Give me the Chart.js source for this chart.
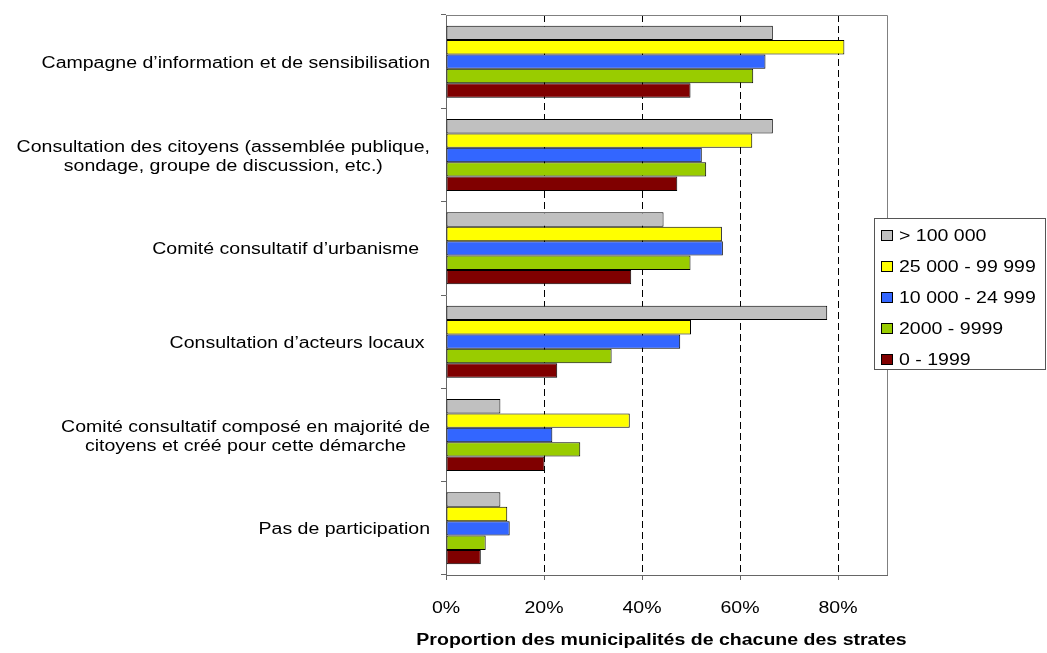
<!DOCTYPE html>
<html>
<head>
<meta charset="utf-8">
<script src="https://cdn.jsdelivr.net/npm/chart.js@4/dist/chart.umd.min.js"></script>
<style>
  html, body { margin: 0; padding: 0; background: #fff; }
  canvas { display: block; }
</style>
</head>
<body>
<canvas id="c" width="1047" height="653"></canvas>
<script>
// ---- Data ----
const categories = [
  ["Campagne d’information et de sensibilisation"],
  ["Consultation des citoyens (assemblée publique,", "sondage, groupe de discussion, etc.)"],
  ["Comité consultatif d’urbanisme  "],
  ["Consultation d’acteurs locaux "],
  ["Comité consultatif composé en majorité de", "citoyens et créé pour cette démarche"],
  ["Pas de participation"]
];
const seriesNames = ["> 100 000", "25 000 - 99 999", "10 000 - 24 999", "2000 - 9999", "0 - 1999"];
const s100000plus = [66.7, 66.7, 44.4, 77.8, 11.1, 11.1];
const s25000 = [81.3, 62.5, 56.3, 50.0, 37.5, 12.5];
const s10000 = [65.2, 52.2, 56.5, 47.8, 21.7, 13.0];
const s2000 = [62.7, 53.1, 49.9, 33.8, 27.4, 8.1];
const s0 = [49.9, 47.2, 37.8, 22.7, 20.1, 7.1];
const xTickValues = [0, 20, 40, 60, 80];
const xTickLabels = ["0%", "20%", "40%", "60%", "80%"];
const xTitle = "Proportion des municipalités de chacune des strates";

const colors = ["#C0C0C0", "#FFFF00", "#3366FF", "#99CC00", "#800000"];
const seriesValues = [s100000plus, s25000, s10000, s2000, s0];

const FONT = "'Liberation Sans', Arial, sans-serif";
const SX = 1.22; // horizontal stretch of the reference text

function sText(ctx, text, x, y, align, font) {
  ctx.save();
  ctx.font = font;
  ctx.textAlign = align;
  ctx.textBaseline = 'alphabetic';
  ctx.fillStyle = '#000';
  ctx.translate(x, y);
  ctx.scale(SX, 1);
  ctx.fillText(text, 0, 0);
  ctx.restore();
}

const decor = {
  id: 'decor',
  afterDraw(chart) {
    const ctx = chart.ctx;
    const a = chart.chartArea;
    const xs = chart.scales.x, ys = chart.scales.y;
    // top & right plot border
    ctx.save();
    ctx.strokeStyle = '#808080';
    ctx.lineWidth = 1;
    ctx.beginPath();
    ctx.moveTo(a.left, Math.round(a.top) + 0.5);
    ctx.lineTo(Math.round(a.right) + 0.5, Math.round(a.top) + 0.5);
    ctx.lineTo(Math.round(a.right) + 0.5, a.bottom);
    ctx.stroke();
    ctx.restore();

    // category labels
    const f16 = '16px ' + FONT;
    ctx.save();
    ctx.font = f16;
    chart.data.labels.forEach((lines, i) => {
      const cy = ys.getPixelForTick(i);
      const widths = lines.map(l => ctx.measureText(l).width * SX);
      const W = Math.max(...widths);
      const cx = 430 - W / 2;
      const n = lines.length;
      lines.forEach((l, k) => {
        const by = cy + 6 + (k - (n - 1) / 2) * 19;
        sText(ctx, l, cx, by, 'center', f16);
      });
    });
    ctx.restore();

    // x tick labels
    xTickValues.forEach((v, i) => {
      sText(ctx, xTickLabels[i], xs.getPixelForValue(v), 613, 'center', f16);
    });
    // x title
    sText(ctx, xTitle, (a.left + a.right) / 2 - 5, 645, 'center', 'bold 16px ' + FONT);

    // legend
    ctx.save();
    ctx.fillStyle = '#fff';
    ctx.fillRect(874, 218, 172, 152);
    ctx.strokeStyle = '#555';
    ctx.lineWidth = 1;
    ctx.strokeRect(874.5, 218.5, 171, 151);
    ctx.restore();
    chart.data.datasets.forEach((ds, i) => {
      const by = 241 + 31 * i;
      ctx.save();
      ctx.fillStyle = ds.backgroundColor;
      ctx.fillRect(881, by - 11, 12, 11);
      ctx.strokeStyle = '#000';
      ctx.lineWidth = 1;
      ctx.strokeRect(881.5, by - 10.5, 11, 10);
      ctx.restore();
      sText(ctx, ds.label, 899, by, 'left', f16);
    });
  }
};

new Chart(document.getElementById('c'), {
  type: 'bar',
  data: {
    labels: categories,
    datasets: seriesNames.map((name, i) => ({
      label: name,
      data: seriesValues[i],
      backgroundColor: colors[i],
      borderColor: '#000',
      borderWidth: 1,
      borderSkipped: false,
      categoryPercentage: 0.772,
      barPercentage: 1.0
    }))
  },
  options: {
    indexAxis: 'y',
    responsive: false,
    animation: false,
    devicePixelRatio: 1,
    layout: { padding: { top: 15, right: 160, bottom: 0, left: 0 } },
    plugins: { legend: { display: false }, tooltip: { enabled: false } },
    scales: {
      x: {
        type: 'linear',
        min: 0, max: 90,
        ticks: { display: false, stepSize: 20, includeBounds: false },
        grid: {
          color: (c) => (c.tick && c.tick.value === 0) ? 'rgba(0,0,0,0)' : '#000',
          lineWidth: 1,
          drawTicks: true,
          tickLength: 5,
          tickColor: '#666',
          tickBorderDash: []
        },
        border: { display: true, color: '#666', dash: [7, 4] },
        afterFit: (s) => { s.height = 78; }
      },
      y: {
        type: 'category',
        ticks: { display: false },
        grid: {
          offset: true,
          drawOnChartArea: false,
          drawTicks: true,
          tickLength: 5,
          tickColor: '#666'
        },
        border: { display: true, color: '#666' },
        afterFit: (s) => { s.width = 446; }
      }
    }
  },
  plugins: [decor]
});
</script>
</body>
</html>
